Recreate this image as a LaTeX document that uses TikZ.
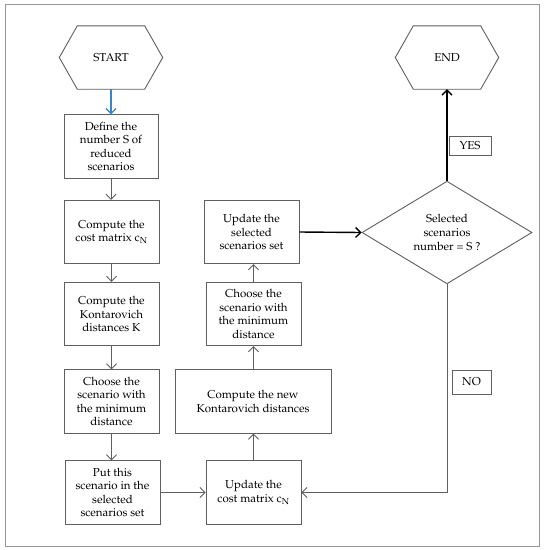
\documentclass[tikz,border=0pt]{standalone}
\usepackage[T1]{fontenc}
\usepackage{mathpazo}
\usetikzlibrary{arrows.meta,shapes.geometric,calc}
\definecolor{linegray}{RGB}{95,95,95}
\definecolor{framegray}{RGB}{150,150,150}
\definecolor{startblue}{RGB}{60,130,200}
\begin{document}
\begin{tikzpicture}[x=1pt,y=-1pt,
  font=\fontsize{11.5}{13.6}\selectfont,
  box/.style={draw=linegray, line width=0.9pt, align=center, inner sep=2pt, minimum width=95pt, minimum height=63.5pt},
  lab/.style={draw=linegray, line width=0.9pt, align=center, inner sep=0pt},
  hexbase/.style={draw=none, minimum width=67pt, minimum height=63pt, inner sep=0pt},
  grayarrow/.style={draw=linegray, line width=0.9pt, -{Straight Barb[length=5pt,width=10pt]}},
  blackarrow/.style={draw=black, line width=1.4pt, -{Straight Barb[length=5pt,width=10pt]}},
  bluearrow/.style={draw=startblue, line width=1.2pt, -{Straight Barb[length=5pt,width=10pt]}},
  hexline/.style={draw=linegray, line width=0.9pt}
]
\useasboundingbox (0,0) rectangle (544,550);
\fill[white] (0,0) rectangle (544,550);
\draw[framegray, line width=1pt] (5,4) rectangle (539,546);

% terminals
\node[hexbase] (start) at (111,57.5) {START};
\node[hexbase] (end) at (447,57.5) {END};
\foreach \n in {start,end}{
  \draw[hexline] (\n.north west) -- (\n.north east) -- ($(\n.east)+(18,0)$) -- (\n.south east) -- (\n.south west) -- ($(\n.west)+(-18,0)$) -- cycle;
}

% left column
\node[box, minimum width=94pt] (b1) at (111,146.5) {Define the\\number S of\\reduced\\scenarios};
\node[box] (b2) at (111.5,232) {Compute the\\cost matrix c$_{\mathrm{N}}$};
\node[box] (b3) at (111.5,314) {Compute the\\Kontarovich\\distances K};
\node[box] (b4) at (111.5,401.5) {Choose the\\scenario with\\the minimum\\distance};
\node[box] (b5) at (112.5,492.5) {Put this\\scenario in the\\selected\\scenarios set};

% middle column
\node[box] (b6) at (253.5,492.5) {Update the\\cost matrix c$_{\mathrm{N}}$};
\node[box, minimum width=156pt] (b7) at (253,401.5) {Compute the new\\Kontarovich distances};
\node[box] (b8) at (253.5,314) {Choose the\\scenario with\\the minimum\\distance};
\node[box] (b9) at (251.5,232) {Update the\\selected\\scenarios set};

% decision
\node[diamond, draw=linegray, line width=0.9pt, align=center, inner sep=0pt, minimum width=170pt, minimum height=93pt] (dec) at (447,232.5) {Selected\\scenarios\\number = S ?};

% labels
\node[lab, minimum width=42pt, minimum height=19pt] (yes) at (470,145.5) {YES};
\node[lab, minimum width=39pt, minimum height=24pt] (no) at (471.5,382) {NO};

% connectors
\draw[bluearrow] (start.south) -- (b1.north);
\draw[grayarrow] (b1.south) -- (b1.south |- b2.north);
\draw[grayarrow] (b2) -- (b3);
\draw[grayarrow] (b3) -- (b4);
\draw[grayarrow] (b4.south) -- (b4.south |- b5.north);
\draw[grayarrow] (b5.east) -- (b6.west);
\draw[grayarrow] (b6.north) -- (b6.north |- b7.south);
\draw[grayarrow] (b8.south |- b7.north) -- (b8.south);
\draw[grayarrow] (b8.north) -- (b8.north |- b9.south);
\draw[blackarrow] (b9.east) -- (dec.west);
\draw[blackarrow] (dec.north) -- (end.south);
\draw[grayarrow] (dec.south) -- (dec.south |- b6.east) -- (b6.east);
\end{tikzpicture}
\end{document}
